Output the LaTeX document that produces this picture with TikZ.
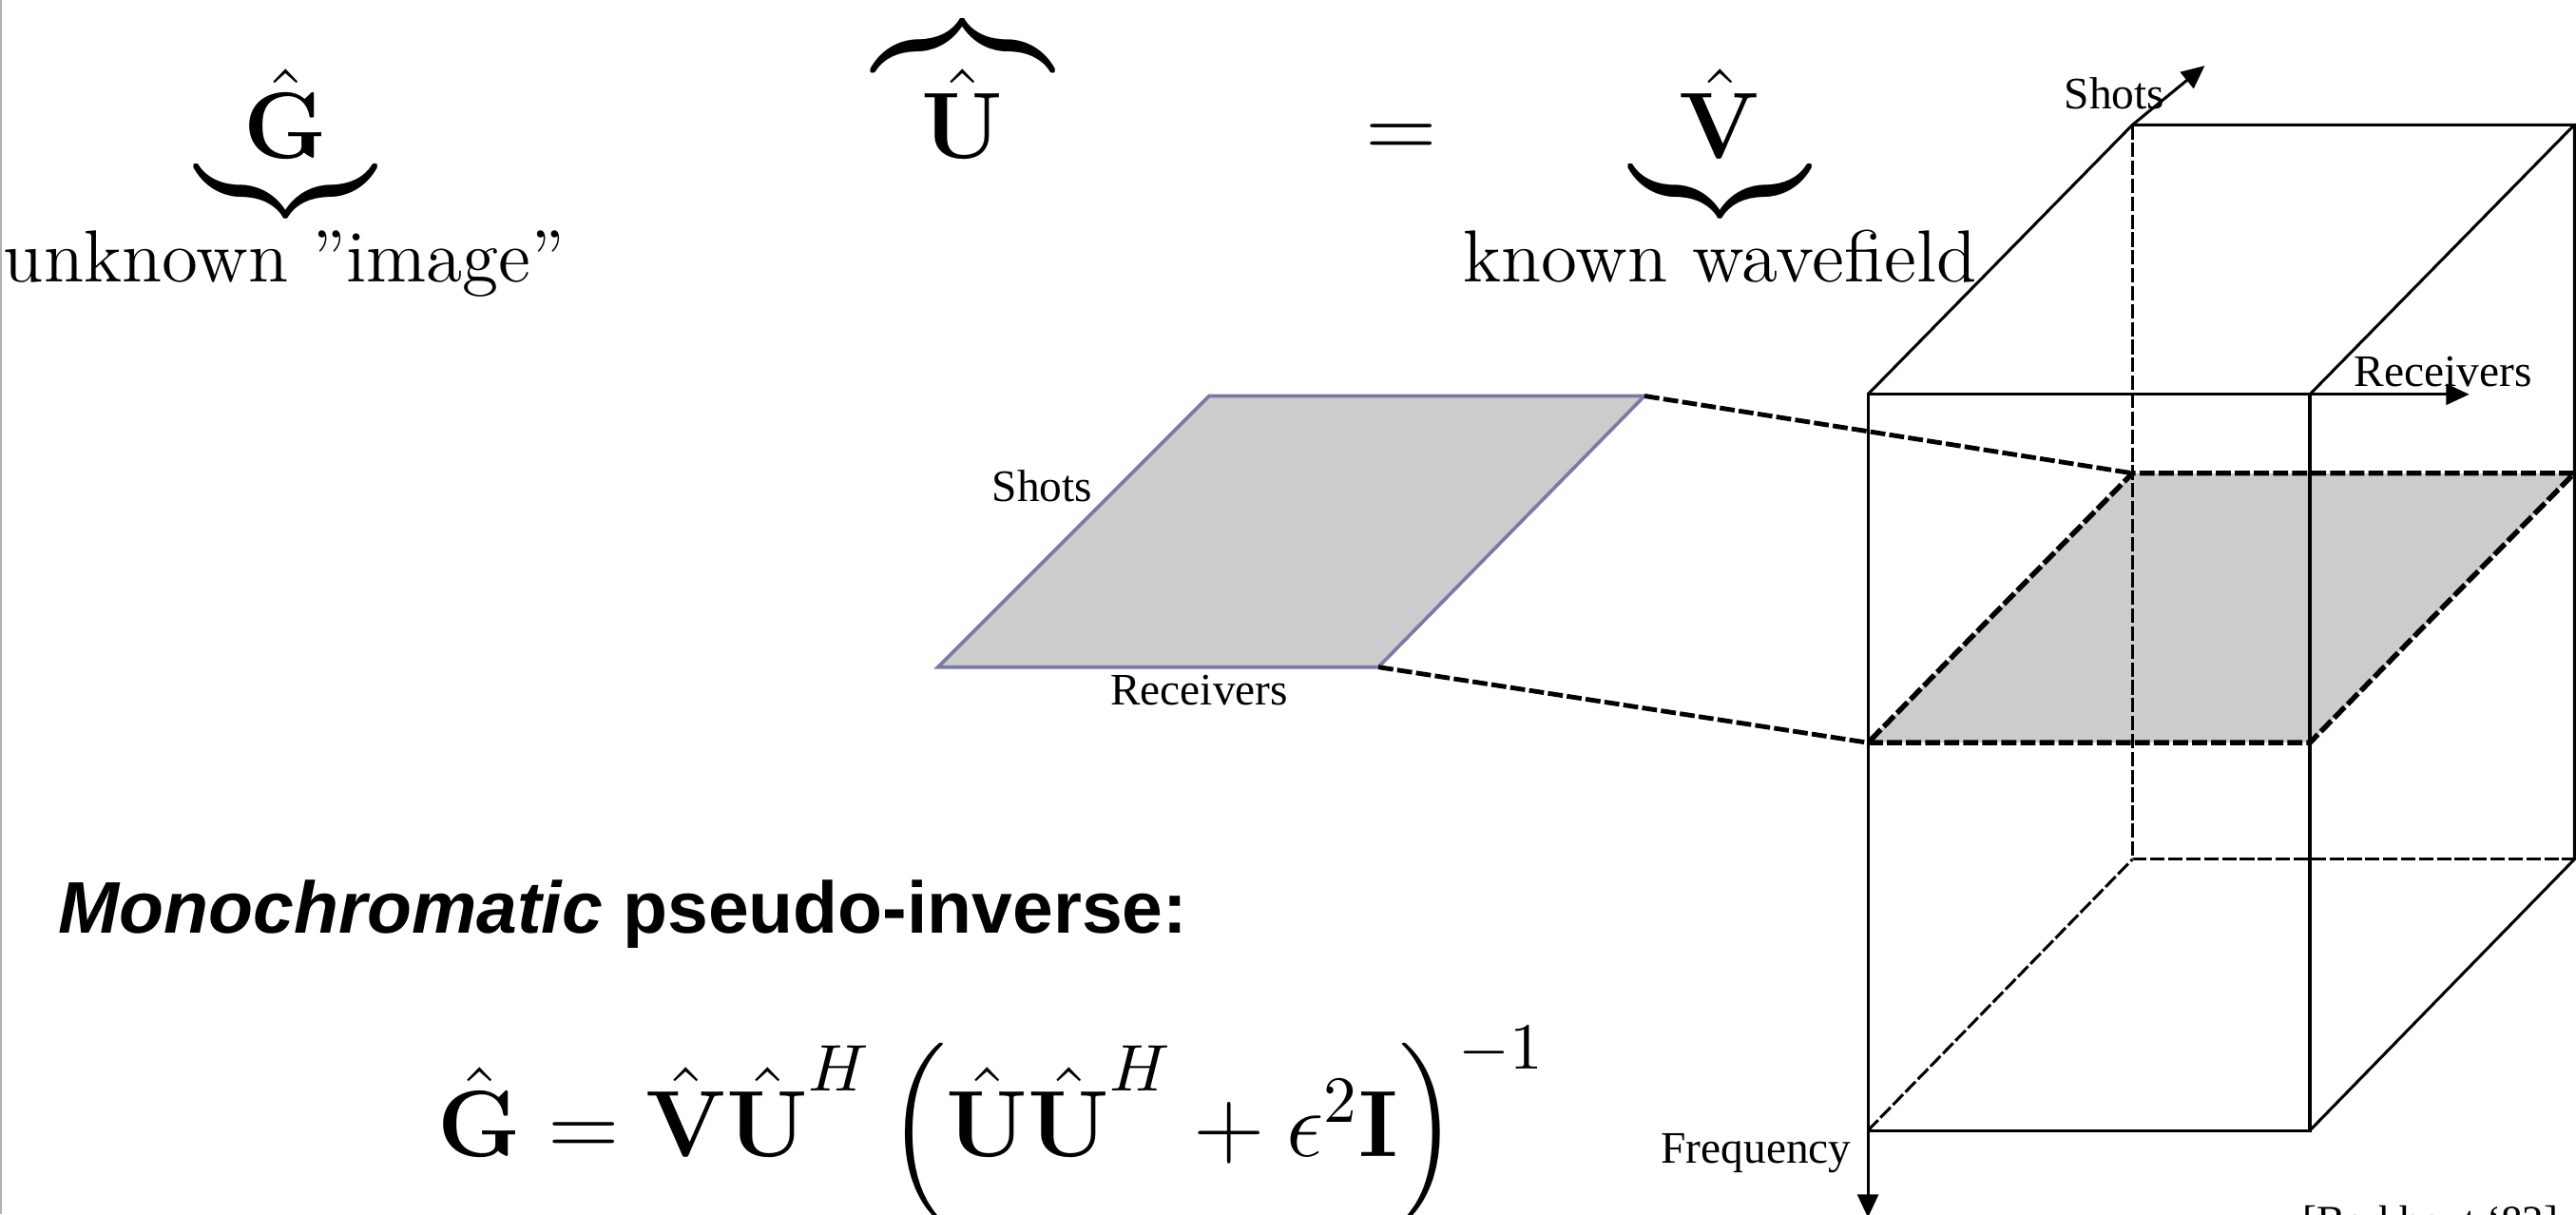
\RequirePackage{fix-cm}
\documentclass[tikz,border=0pt]{standalone}
\usepackage{amsmath}
\usepackage[no-math]{fontspec}
\newfontfamily\helvfont{Liberation Sans}
\newfontfamily\timesfont{Liberation Serif}
\usetikzlibrary{arrows.meta}

\definecolor{slicegray}{RGB}{204,204,204}
\definecolor{slicedraw}{RGB}{122,122,168}
\newcommand{\supH}{^{\raisebox{5.5pt}{$\scriptstyle H$}}}

\begin{document}
\begin{tikzpicture}[x=0.01cm, y=-0.01cm,
  boxline/.style={black, line width=.5pt},
  hiddenline/.style={black, line width=.5pt, dash pattern=on 2.5pt off .6pt},
  sliceedge/.style={black, line width=.9pt, dash pattern=on 2.6pt off .7pt},
  link/.style={black, line width=.8pt, dash pattern=on 2.6pt off .7pt},
  arr/.style={black, line width=.5pt, -{Triangle[length=4pt,width=3.6pt]}},
  lab/.style={font=\timesfont\fontsize{7.8}{9}\selectfont, inner sep=0pt, anchor=base},
  mathbig/.style={font=\fontsize{16.3}{19}\selectfont, inner sep=0pt, anchor=base},
  txt/.style={font=\fontsize{12.75}{15}\selectfont, inner sep=0pt, anchor=base}]
  \useasboundingbox (0,0) rectangle (1568,739);
  \draw [gray!60, line width=.4pt] (0.5,0) -- (0.5,739);

  % top line
  \node [mathbig] (G) at (174,96.4) {$\underbrace{\hat{\mathbf G}\rule[-1.6pt]{0pt}{1pt}}$};
  \node [txt] (Glabel) at (173,171.5) {unknown ”image”};
  \node [mathbig] (U) at (586,96.4) {$\overbrace{\hat{\mathbf U}}$};
  \node [mathbig] (eq) at (853,96.4) {$=$};
  \node [mathbig] (V) at (1047,96.4) {$\underbrace{\hat{\mathbf V}\rule[-1.6pt]{0pt}{1pt}}$};
  \node [txt] (Vlabel) at (1047,171.5) {known wavefield};

  % single frequency slice
  \coordinate (pbl) at (571,406);
  \coordinate (pbr) at (839,406);
  \coordinate (ptr) at (1001,241);
  \coordinate (ptl) at (736,241);
  \draw [slicedraw, fill=slicegray, line width=.6pt] (pbl) -- (pbr) -- (ptr) -- (ptl) -- cycle;
  \node [lab] (pshots) at (634.5,305) {Shots};
  \node [lab] (precv) at (730,429) {Receivers};

  % data cube
  \coordinate (ftl) at (1137,240);
  \coordinate (ftr) at (1406,240);
  \coordinate (fbl) at (1137,688);
  \coordinate (fbr) at (1406,688);
  \coordinate (btl) at (1298,76);
  \coordinate (btr) at (1567,76);
  \coordinate (bbl) at (1298,523);
  \coordinate (bbr) at (1567,523);
  \coordinate (sfl) at (1137,452);
  \coordinate (sfr) at (1406,452);
  \coordinate (sbl) at (1298,288);
  \coordinate (sbr) at (1567,288);
  \fill [slicegray] (sfl) -- (sfr) -- (sbr) -- (sbl) -- cycle;
  \draw [hiddenline] (btl) -- (bbl) -- (bbr);
  \draw [hiddenline] (fbl) -- (bbl);
  \draw [boxline] (ftl) -- (ftr) -- (fbr) -- (fbl) -- cycle;
  \draw [boxline] (ftl) -- (btl) -- (btr) -- (ftr);
  \draw [boxline] (btr) -- (bbr) -- (fbr);
  \draw [sliceedge] (sfl) -- (sfr) -- (sbr) -- (sbl) -- cycle;
  \draw [link] (ptr) -- (sbl);
  \draw [link] (pbr) -- (sfl);

  % axes
  \coordinate (rtip) at (1503,240);
  \coordinate (stip) at (1342,40);
  \coordinate (ftip) at (1137,741);
  \draw [arr] (ftr) -- (rtip);
  \draw [arr] (btl) -- (stip);
  \draw [arr] (fbl) -- (ftip);
  \node [lab] (shots) at (1287,66) {Shots};
  \node [lab] (recv) at (1487,235) {Receivers};
  \node [lab] (freq) at (1069,708) {Frequency};

  % pseudo-inverse
  \node [font=\helvfont\bfseries\fontsize{12.65}{15}\selectfont, inner sep=0pt, anchor=base west] (title) at (35,568) {{\itshape Monochromatic} pseudo-inverse:};
  \node [mathbig, anchor=base west] (pinv) at (266,704) {$\hat{\mathbf G} = \hat{\mathbf V}\hat{\mathbf U}\supH \left(\hat{\mathbf U}\hat{\mathbf U}\supH + \epsilon^2\mathbf I\right)^{-1}$};
  \node [lab, anchor=base west, font=\timesfont\fontsize{7.4}{9}\selectfont] (cite) at (1401,752) {[Berkhout ‘82]};
\end{tikzpicture}
\end{document}
